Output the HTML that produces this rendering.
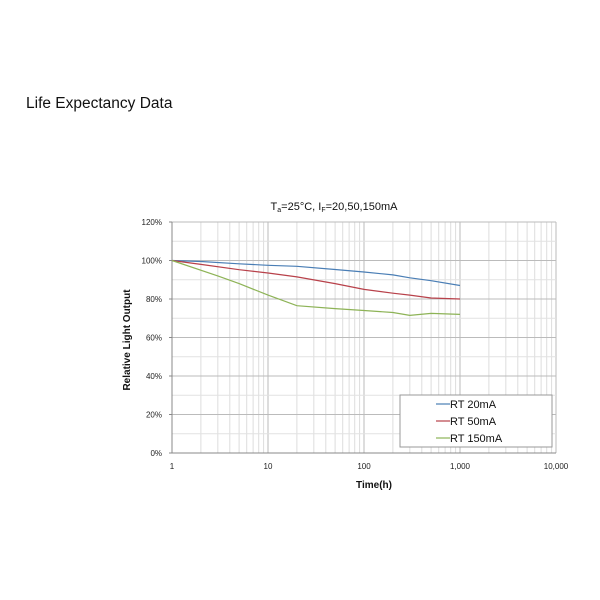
<!DOCTYPE html>
<html><head><meta charset="utf-8"><style>
body{margin:0;background:#fff;width:600px;height:600px;overflow:hidden;font-family:"Liberation Sans",sans-serif}
#t{position:absolute;left:26px;top:95px;font-size:15.5px;color:#111;font-family:"Liberation Sans",sans-serif;white-space:nowrap}
</style></head><body>
<div id="t">Life Expectancy Data</div>
<svg id="s" width="600" height="600" style="position:absolute;left:0;top:0" font-family="Liberation Sans, sans-serif"></svg>
<script>
var s=document.getElementById('s'),h='';
function X(t){return 172+96*Math.log10(t)}
function Y(p){return 453-1.925*p}
for(var d=0;d<4;d++)for(var k=1;k<10;k++){var x=X(Math.pow(10,d)*k);h+='<line x1="'+x+'" y1="222" x2="'+x+'" y2="453" stroke="'+(k==1?'#bbb':'#ddd')+'" stroke-width="1"/>';}
h+='<line x1="556" y1="222" x2="556" y2="453" stroke="#bbb"/>';
for(var p=0;p<=120;p+=10){var y=Y(p);h+='<line x1="172" y1="'+y+'" x2="556" y2="'+y+'" stroke="'+(p%20==0?'#bbb':'#e2e2e2')+'"/>';
 if(p%20==0){h+='<text x="162" y="'+(y+3)+'" font-size="8" text-anchor="end" fill="#222">'+p+'%</text><line x1="169" y1="'+y+'" x2="172" y2="'+y+'" stroke="#888"/>';}}
h+='<line x1="172" y1="222" x2="172" y2="453" stroke="#888"/><line x1="172" y1="453" x2="556" y2="453" stroke="#888"/>';
var lab=['1','10','100','1,000','10,000'];
for(var i=0;i<5;i++)h+='<text x="'+(172+96*i)+'" y="469" font-size="8" text-anchor="middle" fill="#222">'+lab[i]+'</text>';
function line(pts,c){var d='';pts.forEach(function(q,i){d+=(i?'L':'M')+X(q[0]).toFixed(1)+','+Y(q[1]).toFixed(1)});h+='<path d="'+d+'" fill="none" stroke="'+c+'" stroke-width="1.2"/>';}
line([[1,100],[2,99.5],[5,98.3],[10,97.5],[20,97],[50,95.3],[100,94],[200,92.5],[300,91],[500,89.5],[1000,87]],'#4a7eb5');
line([[1,100],[2,98],[5,95.2],[10,93.5],[20,91.5],[50,88],[100,85],[200,83],[300,82],[500,80.5],[1000,80]],'#b8414a');
line([[1,100],[3,92],[5,88],[10,82],[20,76.5],[50,75],[100,74],[200,73],[300,71.5],[500,72.5],[1000,72]],'#8db356');
h+='<rect x="400" y="395" width="152" height="52" fill="#fff" stroke="#999"/>';
var L=[['RT 20mA','#4a7eb5'],['RT 50mA','#b8414a'],['RT 150mA','#8db356']];
L.forEach(function(l,i){var y=404+i*17;h+='<line x1="436" y1="'+y+'" x2="450" y2="'+y+'" stroke="'+l[1]+'" stroke-width="1.2"/><text x="450" y="'+(y+4)+'" font-size="11" fill="#111">'+l[0]+'</text>';});
h+='<text x="334" y="210" font-size="11" text-anchor="middle" fill="#111">T<tspan font-size="7" dy="2">a</tspan><tspan dy="-2">=25°C, I</tspan><tspan font-size="7" dy="2">F</tspan><tspan dy="-2">=20,50,150mA</tspan></text>';
h+='<text x="374" y="488" font-size="10" font-weight="bold" text-anchor="middle" fill="#111">Time(h)</text>';
h+='<text transform="translate(130,340) rotate(-90)" font-size="10" font-weight="bold" text-anchor="middle" fill="#111">Relative Light Output</text>';
s.innerHTML=h;
</script>
</body></html>
